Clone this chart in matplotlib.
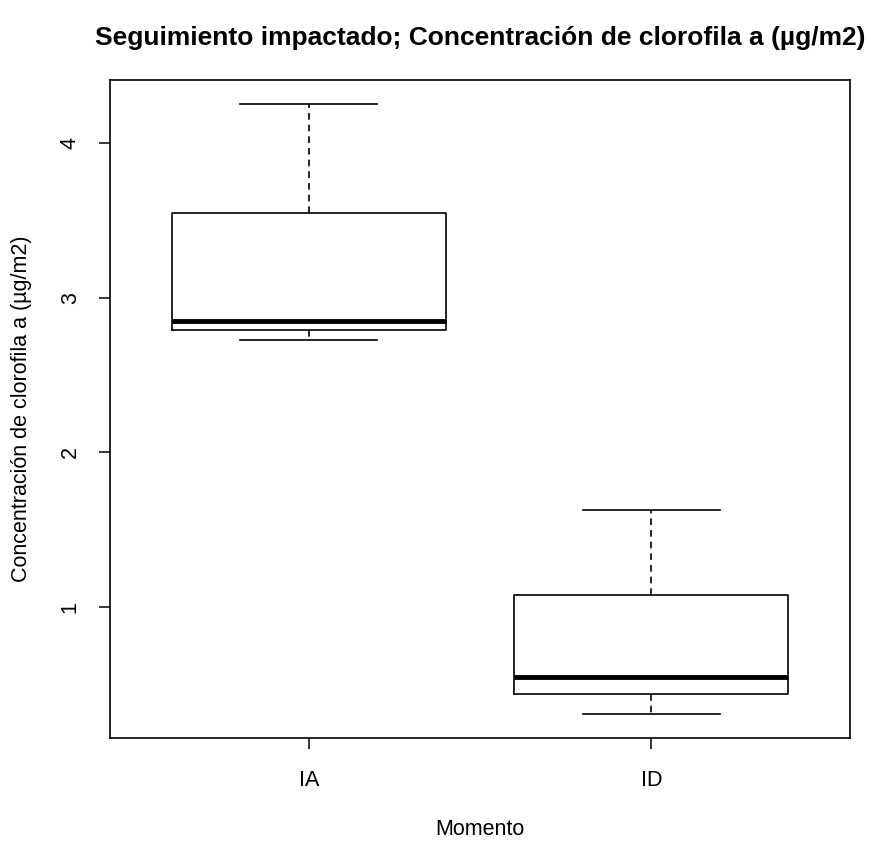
import matplotlib.pyplot as plt

plt.rcParams['font.family'] = ['Liberation Sans', 'DejaVu Sans']

# Box statistics
grupos = ["IA", "ID"]
whislo = [2.724, 0.307]
q1 = [2.789, 0.436]
medianas = [2.853, 0.546]
q3 = [3.547, 1.078]
whishi = [4.253, 1.629]

stats = []
for i in range(len(grupos)):
	stats.append({"label": grupos[i], "whislo": whislo[i], "q1": q1[i],
		"med": medianas[i], "q3": q3[i], "whishi": whishi[i], "fliers": []})

fig = plt.figure(figsize=(8.71, 8.42), dpi=100)
ax = fig.add_axes([110/871, 104/842, 740/871, 658/842])

ax.bxp(stats, positions=[1, 2], widths=0.8, showfliers=False,
	boxprops=dict(color="black", linewidth=1.2),
	medianprops=dict(color="black", linewidth=3.5, solid_capstyle="butt"),
	whiskerprops=dict(color="black", linewidth=1.2, linestyle=(0, (4, 3))),
	capprops=dict(color="black", linewidth=1.2), capwidths=0.4)

# R style limits: extend data range by 4%
lo, hi = min(whislo), max(whishi)
pad = (hi - lo) * 0.04
ax.set_ylim(lo - pad, hi + pad)
ax.set_xlim(0.5 - 0.08, 2.5 + 0.08)

ax.set_yticks([1, 2, 3, 4])
ax.set_yticklabels(["1", "2", "3", "4"], rotation=90, va="center")
ax.set_xticks([1, 2])
ax.set_xticklabels(grupos)
ax.tick_params(labelsize=15.5, length=8, width=1.1)
ax.tick_params(axis="x", pad=15)
ax.tick_params(axis="y", pad=13)
for s in ax.spines.values():
	s.set_linewidth(1.2)

ax.set_xlabel("Momento", fontsize=15.5, labelpad=20)
ax.set_ylabel("Concentración de clorofila a (µg/m2)", fontsize=15.5, labelpad=20)
ax.set_title("Seguimiento impactado; Concentración de clorofila a (µg/m2)",
	fontsize=19, fontweight="bold", pad=25)

fig.savefig("out.png", dpi=100)
